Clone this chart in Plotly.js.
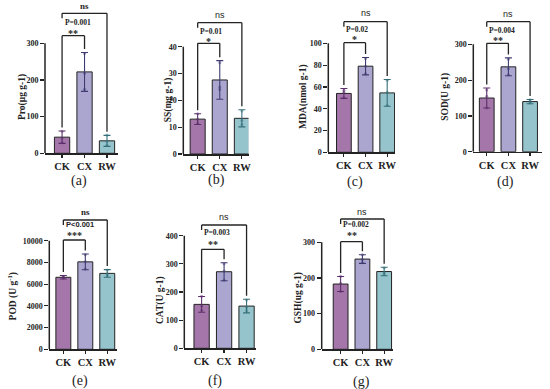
<!DOCTYPE html>
<html>
<head>
<meta charset="utf-8">
<script src="https://cdn.plot.ly/plotly-3.0.1.min.js"></script>
<style>html,body{margin:0;padding:0;background:#fff;}#chart{width:550px;height:389px;}</style>
</head>
<body>
<div id="chart"></div>
<script>
// ---------------- DATA ----------------
const groups = ['CK', 'CX', 'RW'];

const proMean = [44, 222, 34];
const proSD   = [17, 53, 15];
const proPts  = [[60, 42, 29], [272, 218, 175], [50, 33, 22]];

const ssMean = [13.0, 27.6, 13.3];
const ssSD   = [2.0, 7.2, 3.2];
const ssPts  = [[15, 13, 11.5], [34, 25, 24], [16, 12.5, 11]];

const mdaMean = [54, 79, 54.5];
const mdaSD   = [4.5, 8, 12.3];
const mdaPts  = [[57, 55, 50], [86, 79, 72], [66, 55, 43]];

const sodMean = [150, 237, 140];
const sodSD   = [28, 25, 6];
const sodPts  = [[172, 155, 122], [258, 232, 215], [145, 140, 136]];

const podMean = [6630, 8050, 6990];
const podSD   = [160, 720, 350];
const podPts  = [[6720, 6620, 6560], [8700, 8050, 7400], [7300, 6950, 6750]];

const catMean = [156, 272, 150];
const catSD   = [28, 32, 24];
const catPts  = [[185, 150, 135], [300, 275, 242], [172, 145, 133]];

const gshMean = [183, 253, 218];
const gshSD   = [21, 12, 12];
const gshPts  = [[205, 185, 162], [265, 252, 243], [228, 215, 210]];

const yTitles = ['Pro(μg g-1)', 'SS(mg g-1)', 'MDA(nmol g-1)', 'SOD(U g-1)', 'POD (U g<sup>-1</sup>)', 'CAT(U g-1)', 'GSH(ug g-1)'];
const panelLabels = ['(a)', '(b)', '(c)', '(d)', '(e)', '(f)', '(g)'];
const pLabels = ['P=0.001', 'P=0.01', 'P=0.02', 'P=0.004', 'P<0.001', 'P=0.003', 'P=0.002'];
const starLabels = ['**', '*', '*', '**', '***', '**', '**'];
const nsLabel = 'ns';

// ---------------- LAYOUT CONFIG ----------------
const W = 550, H = 389;
const barColors = ['#a476a9', '#aaa6cf', '#95c4cc'];
const errColors = ['#5b2f6b', '#3e3b70', '#356f7a'];
const ink = '#232323';
const serif = 'Liberation Serif';
const sans = 'Liberation Sans';

const panelData = [
  [proMean, proSD, proPts], [ssMean, ssSD, ssPts], [mdaMean, mdaSD, mdaPts], [sodMean, sodSD, sodPts],
  [podMean, podSD, podPts], [catMean, catSD, catPts], [gshMean, gshSD, gshPts]
];

// pixel geometry per panel
const geo = [
  {xL:45,    xR:118,   y0:153.3, yT:43.3,  tickTop:300,   dtick:100,  rangeTop:415,   xr:[-0.76,2.49], tx:22,    ty:97,    lx:79,    ly:180.5, b:{outer:13.3, ns:6,     p:22.2,  star:31.5,  inner:35.7}, nsFont:'serifB', pFont:'serif'},
  {xL:183.3, xR:248.5, y0:154,   yT:46.7,  tickTop:40,    dtick:10,   rangeTop:56,    xr:[-0.65,2.3],  tx:168.3, ty:100,   lx:216.7, ly:180,   b:{outer:22.7, ns:15,    p:31.8,  star:39,    inner:43.3}, nsFont:'sans', pFont:'serif'},
  {xL:328.3, xR:395,   y0:152.3, yT:43.3,  tickTop:100,   dtick:20,   rangeTop:135,   xr:[-0.72,2.36], tx:303.3, ty:96.7,  lx:355,   ly:182,   b:{outer:21.7, ns:13.3,  p:29.5,  star:37.2,  inner:42.7}, nsFont:'sans', pFont:'serif'},
  {xL:473.3, xR:542,   y0:151.7, yT:44.3,  tickTop:300,   dtick:100,  rangeTop:410,   xr:[-0.62,2.55], tx:446,   ty:96.7,  lx:505,   ly:182,   b:{outer:21.7, ns:14,    p:30.5,  star:38.2,  inner:43.3}, nsFont:'sans', pFont:'serif'},
  {xL:49.3,  xR:116.7, y0:349.3, yT:240.7, tickTop:10000, dtick:2000, rangeTop:13100, xr:[-0.64,2.43], tx:12.7,  ty:296.7, lx:80,    ly:380.5, b:{outer:220,  ns:211.7, p:224.5, star:233.8, inner:240},  nsFont:'serifB', pFont:'sansB'},
  {xL:184.3, xR:256,   y0:348.3, yT:235.7, tickTop:400,   dtick:100,  rangeTop:480,   xr:[-0.77,2.42], tx:160,   ty:300,   lx:215,   ly:380.5, b:{outer:225,  ns:216.7, p:232.3, star:242.3, inner:249.3}, nsFont:'sans', pFont:'serif'},
  {xL:321.7, xR:393.3, y0:349.3, yT:242.3, tickTop:300,   dtick:100,  rangeTop:400,   xr:[-0.87,2.42], tx:298.3, ty:298.3, lx:361.7, ly:382,   b:{outer:219,  ns:211.7, p:224.5, star:233.8, inner:241.7}, nsFont:'sans', pFont:'serif'}
];

function fontOf(kind, size) {
  if (kind === 'serifB' || kind === 'serif') return {family: serif, size: size, color: ink, weight: 'bold'};
  if (kind === 'sansB') return {family: sans, size: size, color: ink, weight: 'bold'};
  return {family: sans, size: size, color: ink};
}

const traces = [];
const layout = {
  width: W, height: H,
  margin: {l: 0, r: 0, t: 0, b: 0},
  paper_bgcolor: '#ffffff', plot_bgcolor: 'rgba(0,0,0,0)',
  showlegend: false, barmode: 'overlay',
  shapes: [], annotations: []
};

geo.forEach((g, i) => {
  const n = i + 1;
  const xa = n === 1 ? 'x' : 'x' + n;
  const ya = n === 1 ? 'y' : 'y' + n;
  const [mean, sd, pts] = panelData[i];
  const ppu = (g.y0 - g.yT) / g.tickTop;
  const v = px => (g.y0 - px) / ppu;
  const ticks = [];
  for (let t = 0; t <= g.tickTop + 1e-9; t += g.dtick) ticks.push(t);

  layout['xaxis' + (n === 1 ? '' : n)] = {
    domain: [g.xL / W, g.xR / W], anchor: ya, type: 'category',
    categoryorder: 'array', categoryarray: groups, range: g.xr,
    showline: true, linecolor: ink, linewidth: 1.5,
    ticks: 'outside', ticklen: 3, tickwidth: 1.2, tickcolor: ink,
    showgrid: false, zeroline: false, fixedrange: true,
    tickfont: {family: serif, size: 10.5, color: ink, weight: 'bold'}
  };
  layout['yaxis' + (n === 1 ? '' : n)] = {
    domain: [1 - g.y0 / H, 1 - (g.y0 - g.rangeTop * ppu) / H], anchor: xa,
    range: [0, g.rangeTop], tickmode: 'array', tickvals: ticks,
    ticktext: ticks.map(t => String(t)),
    showline: false, showgrid: false, zeroline: false, fixedrange: true,
    ticks: 'outside', ticklen: 4, tickwidth: 1.2, tickcolor: ink,
    tickfont: {family: serif, size: 8, color: ink, weight: 'bold'}
  };

  groups.forEach((grp, j) => {
    traces.push({
      type: 'bar', x: [grp], y: [mean[j]], xaxis: xa, yaxis: ya, width: 0.68,
      marker: {color: barColors[j], line: {color: ink, width: 1}},
      error_y: {type: 'data', array: [sd[j]], visible: true, color: errColors[j], thickness: 1.1, width: 3.5},
      hoverinfo: 'skip'
    });
    traces.push({
      type: 'scatter', mode: 'markers', x: pts[j].map(() => grp), y: pts[j], xaxis: xa, yaxis: ya,
      marker: {size: 3, color: errColors[j], opacity: 0.5}, hoverinfo: 'skip', cliponaxis: false
    });
  });

  // y axis line (0 .. top tick)
  layout.shapes.push({type: 'line', xref: 'paper', yref: ya, x0: g.xL / W, x1: g.xL / W, y0: 0, y1: g.tickTop, line: {color: ink, width: 1.5}});

  // significance brackets
  const pad = 3.5 / ppu;
  const legEnd = mean.map((m, j) => m + sd[j] + pad);
  const yin = v(g.b.inner), yout = v(g.b.outer);
  const L = (x0, y0, x1, y1) => layout.shapes.push({type: 'line', xref: xa, yref: ya, x0, y0, x1, y1, line: {color: ink, width: 1.3}});
  L(0, legEnd[0], 0, yin); L(0, yin, 1, yin); L(1, legEnd[1], 1, yin);
  L(0, yout - 5 / ppu, 0, yout); L(0, yout, 2, yout); L(2, legEnd[2], 2, yout);

  layout.annotations.push(
    {xref: xa, yref: ya, x: 1, y: v(g.b.ns), text: nsLabel, showarrow: false, xanchor: 'center', yanchor: 'middle', font: fontOf(g.nsFont, 9)},
    {xref: xa, yref: ya, x: 0.02, y: v(g.b.p), text: pLabels[i], showarrow: false, xanchor: 'left', yanchor: 'middle', font: fontOf(g.pFont, 7.5)},
    {xref: xa, yref: ya, x: 0.5, y: v(g.b.star), text: starLabels[i], showarrow: false, xanchor: 'center', yanchor: 'middle', yshift: -2, font: {family: serif, size: 10, color: ink, weight: 'bold'}},
    {xref: 'paper', yref: 'paper', x: g.tx / W, y: 1 - g.ty / H, text: yTitles[i], textangle: -90, showarrow: false, xanchor: 'center', yanchor: 'middle', font: {family: serif, size: 9.5, color: ink, weight: 'bold'}},
    {xref: 'paper', yref: 'paper', x: g.lx / W, y: 1 - g.ly / H, text: panelLabels[i], showarrow: false, xanchor: 'center', yanchor: 'middle', font: {family: serif, size: 14, color: ink}}
  );
});

Plotly.newPlot('chart', traces, layout, {staticPlot: true, displayModeBar: false});
</script>
</body>
</html>
